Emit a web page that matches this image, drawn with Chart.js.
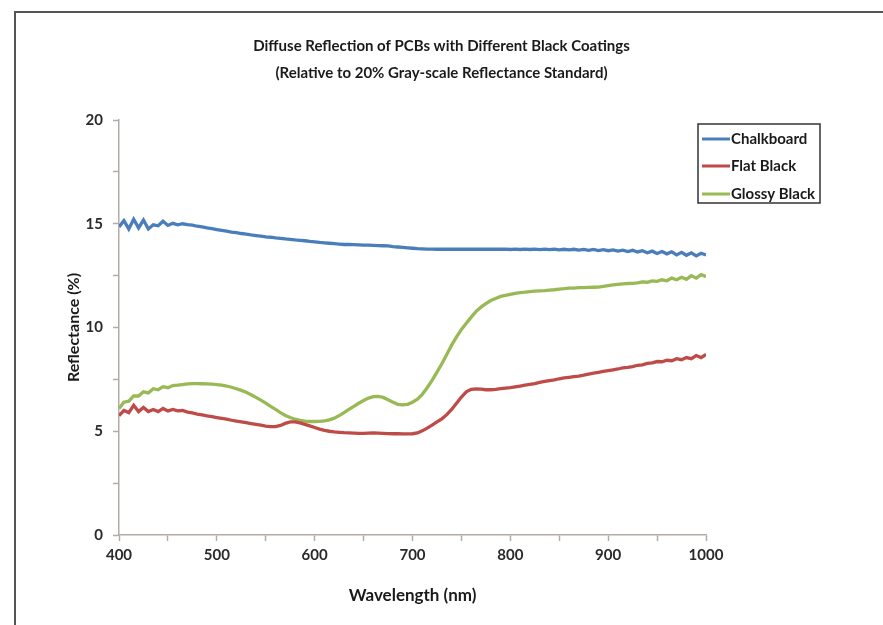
<!DOCTYPE html>
<html><head><meta charset="utf-8">
<script src="https://cdn.jsdelivr.net/npm/chart.js@4.4.1/dist/chart.umd.min.js"></script>
<style>
html,body{margin:0;padding:0;background:#fff;}
#wrap{position:relative;width:883px;height:625px;}
#frame{position:absolute;left:14px;top:11px;width:880px;height:630px;border-top:2px solid #555;border-left:2px solid #555;pointer-events:none;}
</style></head>
<body><div id="wrap"><canvas id="c" width="883" height="625"></canvas><div id="frame"></div></div>
<script>
const titleLines = ['Diffuse Reflection of PCBs with Different Black Coatings', '(Relative to 20% Gray-scale Reflectance Standard)'];
const xTitle = 'Wavelength (nm)';
const yTitle = 'Reflectance (%)';
const seriesNames = ['Chalkboard', 'Flat Black', 'Glossy Black'];

const wavelengths = [
 400,405,410,415,420,425,430,435,440,445,450,455,460,465,470,475,480,485,490,495,
 500,505,510,515,520,525,530,535,540,545,550,555,560,565,570,575,580,585,590,595,
 600,605,610,615,620,625,630,635,640,645,650,655,660,665,670,675,680,685,690,695,
 700,705,710,715,720,725,730,735,740,745,750,755,760,765,770,775,780,785,790,795,
 800,805,810,815,820,825,830,835,840,845,850,855,860,865,870,875,880,885,890,895,
 900,905,910,915,920,925,930,935,940,945,950,955,960,965,970,975,980,985,990,995,
 1000];

const chalkboard = [
 14.85,15.15,14.75,15.22,14.8,15.18,14.75,14.95,14.9,15.12,14.92,15.02,14.95,15.0,14.96,14.93,14.88,14.85,14.8,14.76,
 14.72,14.68,14.64,14.6,14.57,14.53,14.5,14.46,14.43,14.4,14.37,14.35,14.32,14.3,14.27,14.25,14.22,14.2,14.18,14.15,
 14.13,14.1,14.08,14.06,14.04,14.02,14.0,14.0,13.99,13.98,13.97,13.97,13.96,13.95,13.94,13.93,13.9,13.88,13.86,13.84,
 13.82,13.8,13.79,13.78,13.78,13.77,13.78,13.77,13.78,13.77,13.78,13.77,13.78,13.77,13.77,13.78,13.77,13.78,13.77,13.78,
 13.76,13.78,13.76,13.78,13.76,13.78,13.75,13.78,13.75,13.78,13.74,13.77,13.74,13.77,13.73,13.76,13.72,13.76,13.71,13.75,
 13.7,13.74,13.68,13.73,13.66,13.72,13.64,13.7,13.6,13.68,13.57,13.66,13.55,13.65,13.5,13.62,13.48,13.6,13.45,13.58,
 13.5];

const flatBlack = [
 5.75,6.0,5.9,6.25,5.95,6.15,5.95,6.05,5.95,6.1,5.98,6.05,5.98,6.0,5.92,5.88,5.83,5.79,5.74,5.7,
 5.66,5.62,5.58,5.53,5.49,5.45,5.41,5.37,5.33,5.29,5.25,5.22,5.22,5.28,5.38,5.45,5.45,5.4,5.33,5.26,
 5.18,5.1,5.04,5.0,4.97,4.95,4.93,4.92,4.91,4.9,4.9,4.91,4.92,4.91,4.9,4.89,4.88,4.88,4.87,4.87,
 4.88,4.92,5.02,5.15,5.3,5.45,5.6,5.8,6.05,6.35,6.65,6.9,7.02,7.04,7.03,7.0,7.0,7.02,7.05,7.08,
 7.1,7.14,7.18,7.22,7.26,7.3,7.35,7.4,7.44,7.48,7.53,7.57,7.6,7.63,7.66,7.7,7.75,7.8,7.84,7.88,
 7.92,7.96,8.0,8.05,8.08,8.12,8.18,8.2,8.27,8.3,8.36,8.35,8.42,8.4,8.5,8.45,8.55,8.5,8.65,8.55,
 8.7];

const glossyBlack = [
 6.1,6.4,6.45,6.7,6.7,6.9,6.85,7.05,7.0,7.15,7.1,7.2,7.22,7.25,7.28,7.3,7.3,7.29,7.28,7.27,
 7.25,7.22,7.18,7.12,7.05,6.97,6.88,6.76,6.63,6.5,6.36,6.2,6.05,5.9,5.76,5.66,5.58,5.52,5.49,5.47,
 5.47,5.48,5.5,5.55,5.63,5.75,5.9,6.05,6.2,6.35,6.48,6.6,6.67,6.68,6.63,6.52,6.4,6.3,6.27,6.3,
 6.4,6.55,6.78,7.1,7.45,7.85,8.25,8.7,9.15,9.55,9.9,10.2,10.5,10.78,10.98,11.15,11.3,11.4,11.5,11.55,
 11.6,11.65,11.68,11.7,11.73,11.75,11.77,11.78,11.8,11.82,11.85,11.87,11.9,11.9,11.92,11.92,11.93,11.94,11.95,11.98,
 12.02,12.05,12.08,12.1,12.12,12.13,12.15,12.2,12.18,12.25,12.22,12.3,12.25,12.38,12.3,12.42,12.32,12.5,12.38,12.55,
 12.45];

const colors = ['#4a7ebb', '#be4b48', '#98b954'];
const FONT = 'Lato';

const toXY = arr => arr.map((v, i) => ({x: wavelengths[i], y: v}));

const boxLegend = {
  id: 'boxLegend',
  afterDraw(chart) {
    const ctx = chart.ctx;
    ctx.save();
    ctx.strokeStyle = '#333';
    ctx.lineWidth = 1.5;
    ctx.strokeRect(698, 124, 122, 79);
    ctx.font = 'bold 15px ' + FONT;
    ctx.textBaseline = 'middle';
    ctx.textAlign = 'left';
    const ys = [139, 166, 194];
    chart.data.datasets.forEach((ds, i) => {
      ctx.strokeStyle = ds.borderColor;
      ctx.lineWidth = 3;
      ctx.beginPath();
      ctx.moveTo(702, ys[i]);
      ctx.lineTo(730, ys[i]);
      ctx.stroke();
      ctx.fillStyle = '#1a1a1a';
      ctx.fillText(ds.label, 731, ys[i]);
    });
    ctx.restore();
  }
};

new Chart(document.getElementById('c'), {
  type: 'line',
  data: {
    datasets: [
      {label: seriesNames[0], data: toXY(chalkboard), borderColor: colors[0]},
      {label: seriesNames[1], data: toXY(flatBlack), borderColor: colors[1]},
      {label: seriesNames[2], data: toXY(glossyBlack), borderColor: colors[2]}
    ].map(d => Object.assign(d, {borderWidth: 3.3, pointRadius: 0, tension: 0, fill: false, yAxisID: 'y', xAxisID: 'x'}))
  },
  options: {
    responsive: false,
    animation: false,
    layout: {padding: 0},
    plugins: {
      legend: {display: false},
      tooltip: {enabled: false},
      title: {
        display: true,
        text: titleLines,
        color: '#1a1a1a',
        font: {family: FONT, size: 15, weight: 'bold', lineHeight: 1.8},
        padding: {top: 33, bottom: 33}
      }
    },
    scales: {
      x: {
        type: 'linear', position: 'bottom', min: 400, max: 1000,
        afterFit: s => { s.height = 90; },
        grid: {drawOnChartArea: false, drawTicks: true, tickLength: 6, color: '#b3aca6', tickWidth: 1.5},
        border: {display: true, color: '#b3aca6', width: 1.5},
        ticks: {stepSize: 50, autoSkip: false, maxRotation: 0, padding: 5, color: '#2a2a2a',
          font: {family: FONT, size: 15, weight: 'bold'},
          callback: v => (v % 100 === 0 ? String(v) : '')},
        title: {display: true, text: xTitle, color: '#1a1a1a', font: {family: FONT, size: 17, weight: 'bold'}, padding: {bottom: 19}}
      },
      y: {
        type: 'linear', position: 'left', min: 0, max: 20,
        afterFit: s => { s.width = 119; },
        grid: {drawOnChartArea: false, drawTicks: true, tickLength: 6, color: '#b3aca6', tickWidth: 1.5},
        border: {display: true, color: '#b3aca6', width: 1.5},
        ticks: {stepSize: 2.5, autoSkip: false, padding: 10, color: '#2a2a2a',
          font: {family: FONT, size: 15, weight: 'bold'},
          callback: v => (v % 5 === 0 ? String(v) : '')},
        title: {display: true, text: yTitle, color: '#1a1a1a', font: {family: FONT, size: 16, weight: 'bold'}, padding: {top: 64}}
      },
      yRight: {
        type: 'linear', position: 'right', display: true,
        afterFit: s => { s.width = 177; },
        grid: {display: false, drawTicks: false},
        border: {display: false},
        ticks: {display: false}
      }
    }
  },
  plugins: [boxLegend]
});
</script>
</body></html>
